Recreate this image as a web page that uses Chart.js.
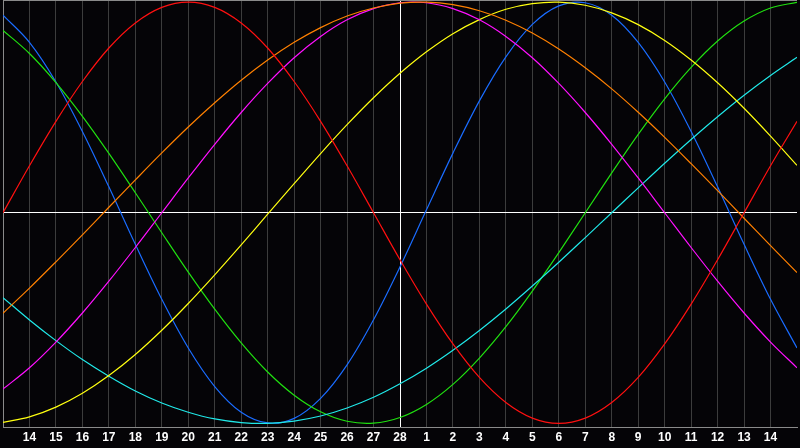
<!DOCTYPE html>
<html>
<head>
<meta charset="utf-8">
<script src="https://cdn.jsdelivr.net/npm/chart.js@4.4.1/dist/chart.umd.min.js"></script>
<style>
  html, body { margin: 0; padding: 0; background: #050407; }
  #wrap { width: 800px; height: 448px; }
</style>
</head>
<body>
<div id="wrap"><canvas id="bio" width="800" height="448"></canvas></div>
<script>
// day labels under the grid (first and last slot are empty)
const dayLabels = ['', '14', '15', '16', '17', '18', '19', '20', '21', '22', '23', '24', '25', '26', '27', '28',
  '1', '2', '3', '4', '5', '6', '7', '8', '9', '10', '11', '12', '13', '14', ''];

// cycle values, one per day slot
const red = [0, 0.223, 0.434, 0.623, 0.782, 0.901, 0.975, 1.000, 0.975, 0.901, 0.782, 0.623, 0.434, 0.223, 0,
  -0.223, -0.434, -0.623, -0.782, -0.901, -0.975, -1.000, -0.975, -0.901, -0.782, -0.623, -0.434, -0.223, 0, 0.223, 0.434];
const blue = [0.938, 0.809, 0.621, 0.386, 0.123, -0.150, -0.411, -0.642, -0.825, -0.947, -0.998, -0.976, -0.881, -0.722, -0.508,
  -0.257, 0.014, 0.283, 0.531, 0.740, 0.894, 0.982, 0.997, 0.938, 0.809, 0.621, 0.386, 0.123, -0.150, -0.411, -0.642];
const green = [0.866, 0.756, 0.618, 0.458, 0.282, 0.095, -0.095, -0.282, -0.458, -0.618, -0.756, -0.866, -0.945, -0.990, -0.999,
  -0.972, -0.910, -0.815, -0.690, -0.541, -0.372, -0.189, 0, 0.189, 0.372, 0.541, 0.690, 0.815, 0.910, 0.972, 0.999];
const orange = [-0.477, -0.358, -0.233, -0.105, 0.026, 0.156, 0.284, 0.407, 0.522, 0.629, 0.725, 0.809, 0.879, 0.934, 0.972,
  0.995, 1.000, 0.988, 0.959, 0.914, 0.853, 0.777, 0.688, 0.588, 0.477, 0.358, 0.233, 0.105, -0.026, -0.156, -0.284];
const magenta = [-0.837, -0.736, -0.614, -0.476, -0.325, -0.165, 0, 0.165, 0.325, 0.476, 0.614, 0.736, 0.837, 0.916, 0.969,
  0.997, 0.997, 0.969, 0.916, 0.837, 0.736, 0.614, 0.476, 0.325, 0.165, 0, -0.165, -0.325, -0.476, -0.614, -0.736];
const yellow = [-0.995, -0.969, -0.923, -0.857, -0.773, -0.673, -0.558, -0.431, -0.295, -0.153, -0.007, 0.138, 0.281, 0.418, 0.546,
  0.662, 0.764, 0.850, 0.917, 0.966, 0.993, 1.000, 0.985, 0.949, 0.893, 0.818, 0.725, 0.617, 0.496, 0.364, 0.225];
const cyan = [-0.403, -0.509, -0.607, -0.697, -0.776, -0.846, -0.903, -0.947, -0.979, -0.996, -1.000, -0.989, -0.965, -0.927, -0.876,
  -0.812, -0.738, -0.653, -0.559, -0.457, -0.348, -0.235, -0.118, 0, 0.118, 0.235, 0.348, 0.456, 0.558, 0.652, 0.738];

const todayIndex = 15;

function line(vals, color) {
  return {
    data: vals.map((v, i) => ({ x: i, y: v })),
    borderColor: color,
    borderWidth: 1.2,
    pointRadius: 0,
    tension: 0.35,
    fill: false
  };
}

const frame = {
  id: 'frame',
  beforeDraw(chart) {
    const c = chart.ctx;
    c.save();
    c.fillStyle = '#050407';
    c.fillRect(0, 0, chart.width, chart.height);
    c.restore();
  },
  afterDraw(chart) {
    const c = chart.ctx, a = chart.chartArea;
    c.save();
    c.strokeStyle = '#8a8a8a';
    c.lineWidth = 1;
    c.beginPath();
    c.moveTo(a.left, a.top + 0.5);
    c.lineTo(a.right, a.top + 0.5);
    c.stroke();
    c.restore();
  }
};

new Chart(document.getElementById('bio'), {
  type: 'line',
  data: {
    datasets: [
      line(red, '#ff1010'),
      line(orange, '#ff8000'),
      line(magenta, '#ff10ff'),
      line(yellow, '#ffff10'),
      line(cyan, '#20e8e8'),
      line(green, '#20e010'),
      line(blue, '#1a6cff')
    ]
  },
  options: {
    responsive: false,
    animation: false,
    devicePixelRatio: 1,
    layout: { padding: 0 },
    plugins: { legend: { display: false }, tooltip: { enabled: false } },
    scales: {
      x: {
        type: 'linear',
        min: 0,
        max: 30,
        ticks: {
          stepSize: 1,
          autoSkip: false,
          maxRotation: 0,
          padding: 3,
          color: '#ffffff',
          font: { family: 'Liberation Sans', size: 12, weight: 'bold' },
          callback: (v) => dayLabels[v] ?? ''
        },
        grid: {
          drawTicks: false,
          color: (ctx) => {
            const v = ctx.tick && ctx.tick.value;
            if (v === todayIndex) return '#ffffff';
            if (v === 0 || v === 30) return 'rgba(0,0,0,0)';
            return '#3c3c3c';
          }
        },
        border: { color: '#8a8a8a' }
      },
      y: {
        min: -1.02,
        max: 1.01,
        afterBuildTicks: (s) => { s.ticks = [{ value: 0 }]; },
        ticks: { display: false },
        grid: { drawTicks: false, color: '#ffffff' },
        border: { color: '#8a8a8a' }
      }
    }
  },
  plugins: [frame]
});
</script>
</body>
</html>
